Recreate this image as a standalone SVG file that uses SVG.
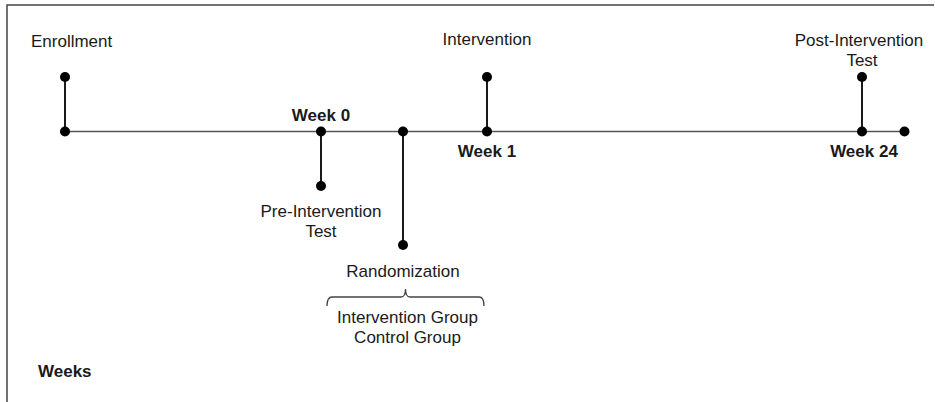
<svg xmlns="http://www.w3.org/2000/svg" width="935" height="402" viewBox="0 0 935 402">
<style>
.t{font-family:"Liberation Sans",Arial,sans-serif;font-size:17px;fill:#1a1a1a;text-anchor:middle}
.b{font-weight:bold}
.v{stroke:#1a1a1a;stroke-width:2;fill:none}
.h{stroke:#555;stroke-width:1.6;fill:none}
.d{fill:#000}
</style>
<rect width="935" height="402" fill="#fff"/>
<path d="M7,402 V5 H934" stroke="#444" stroke-width="1.5" fill="none"/>
<g id="connectors">
<line class="h" x1="65" y1="131.5" x2="904" y2="131.5"/>
<line class="v" x1="65" y1="77" x2="65" y2="131.5"/>
<line class="v" x1="321" y1="131.5" x2="321" y2="186"/>
<line class="v" x1="403" y1="131.5" x2="403" y2="245"/>
<line class="v" x1="487" y1="77" x2="487" y2="131.5"/>
<line class="v" x1="862" y1="77" x2="862" y2="131.5"/>
<path d="M327,306 Q327,297 332,297 H401 Q405.5,297 405.5,289 Q405.5,297 410,297 H479 Q484,297 484,306" stroke="#444" stroke-width="1.3" fill="none"/>
</g>
<g id="enrollment">
<circle class="d" cx="65" cy="77" r="5"/>
<circle class="d" cx="65" cy="131.5" r="5"/>
<text class="t" x="31" y="46.5" style="text-anchor:start">Enrollment</text>
</g>
<g id="week0">
<circle class="d" cx="321" cy="131.5" r="5"/>
<text class="t b" x="321" y="121">Week 0</text>
</g>
<g id="pre-test">
<circle class="d" cx="321" cy="186" r="5"/>
<text class="t" x="321" y="217">Pre-Intervention</text>
<text class="t" x="321" y="236.5">Test</text>
</g>
<g id="randomization">
<circle class="d" cx="403" cy="131.5" r="5"/>
<circle class="d" cx="403" cy="245" r="5"/>
<text class="t" x="403" y="276.5">Randomization</text>
</g>
<g id="groups">
<text class="t" x="407.5" y="322.5">Intervention Group</text>
<text class="t" x="407.5" y="342.5">Control Group</text>
</g>
<g id="intervention">
<circle class="d" cx="487" cy="77" r="5"/>
<circle class="d" cx="487" cy="131.5" r="5"/>
<text class="t" x="487" y="45">Intervention</text>
<text class="t b" x="487" y="156.5">Week 1</text>
</g>
<g id="post-test">
<circle class="d" cx="862" cy="77" r="5"/>
<circle class="d" cx="862" cy="131.5" r="5"/>
<text class="t" x="859" y="46">Post-Intervention</text>
<text class="t" x="862" y="66">Test</text>
<text class="t b" x="864" y="156.5">Week 24</text>
</g>
<g id="end">
<circle class="d" cx="904.5" cy="131.5" r="5"/>
</g>
<g id="weeks-label">
<text class="t b" x="38" y="376.5" style="text-anchor:start">Weeks</text>
</g>
</svg>
